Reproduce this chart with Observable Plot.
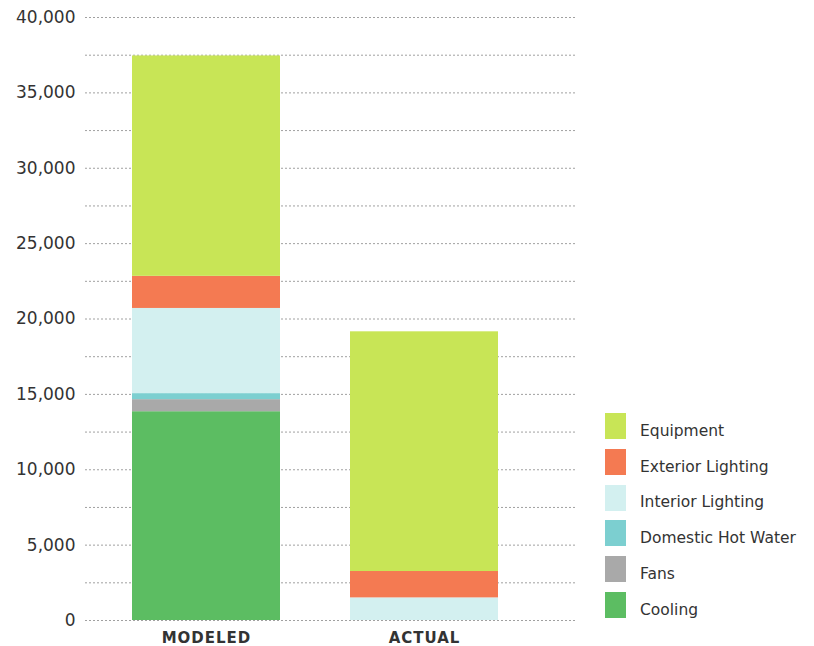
<!DOCTYPE html>
<html>
<head>
<meta charset="utf-8">
<script src="https://cdn.jsdelivr.net/npm/d3@7"></script>
<script src="https://cdn.jsdelivr.net/npm/@observablehq/plot@0.6"></script>
<style>
  html, body { margin: 0; padding: 0; background: #fff; }
  #wrap { position: relative; width: 814px; height: 646px; font-family: "DejaVu Sans", sans-serif; }
  #wrap svg { color: #333; }
  #wrap svg g[aria-label="x-axis tick label"] text { letter-spacing: 1px; }
  #legend { position: absolute; left: 605px; top: 413px; }
  .row { display: flex; align-items: center; height: 35.8px; }
  .sw { width: 21px; height: 26px; margin-right: 14px; align-self: flex-start; }
  .lab { font-size: 15.5px; color: #333; position: relative; top: 0px; white-space: nowrap; }
</style>
</head>
<body>
<div id="wrap"><div id="legend"></div></div>
<script>
const categories = ["MODELED", "ACTUAL"];
const series = ["Cooling", "Fans", "Domestic Hot Water", "Interior Lighting", "Exterior Lighting", "Equipment"];
const colors = ["#5cbd62", "#a9a9a9", "#7ccfd0", "#d3f0f0", "#f47a52", "#c8e556"];
const modeledValues = [13850, 800, 400, 5650, 2130, 14620];
const actualValues = [0, 0, 0, 1500, 1750, 15900];
const yTicks = [0, 5000, 10000, 15000, 20000, 25000, 30000, 35000, 40000];
const gridTicks = d3.range(0, 40001, 2500);

const data = [];
series.forEach((s, i) => {
  data.push({category: categories[0], series: s, value: modeledValues[i]});
  data.push({category: categories[1], series: s, value: actualValues[i]});
});

const chart = Plot.plot({
  width: 814,
  height: 646,
  marginLeft: 85,
  marginRight: 239,
  marginTop: 17,
  marginBottom: 26,
  style: {fontFamily: "DejaVu Sans, sans-serif", background: "transparent"},
  x: {domain: categories, range: [85, 546], paddingInner: 0.321, paddingOuter: 0.2156, label: null},
  y: {domain: [0, 40000], label: null},
  color: {domain: series, range: colors},
  marks: [
    Plot.gridY(gridTicks, {stroke: "#a0a0a0", strokeOpacity: 1, strokeDasharray: "2,2"}),
    Plot.barY(data, {x: "category", y: "value", z: "series", fill: "series", order: series}),
    Plot.axisY(yTicks, {tickSize: 0, tickPadding: 10, tickFormat: d3.format(","), fontSize: 17, label: null}),
    Plot.axisX({tickSize: 0, tickPadding: 12, fontSize: 15, fontWeight: "bold", label: null})
  ]
});
document.getElementById("wrap").prepend(chart);

const legend = document.getElementById("legend");
series.slice().reverse().forEach(s => {
  const row = document.createElement("div");
  row.className = "row";
  const sw = document.createElement("div");
  sw.className = "sw";
  sw.style.background = colors[series.indexOf(s)];
  const lab = document.createElement("span");
  lab.className = "lab";
  lab.textContent = s;
  row.appendChild(sw);
  row.appendChild(lab);
  legend.appendChild(row);
});
</script>
</body>
</html>
